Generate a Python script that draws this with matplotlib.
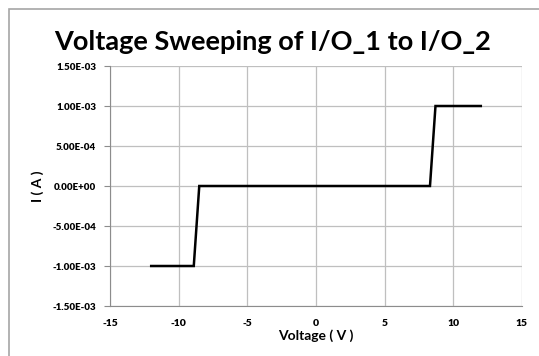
import matplotlib
matplotlib.use("Agg")
import matplotlib.pyplot as plt
from matplotlib.patches import Rectangle

# sweep data
voltage = [-12.0, -8.9, -8.5, 8.3, 8.7, 12.0]
current = [-1.0e-3, -1.0e-3, 0.0, 0.0, 1.0e-3, 1.0e-3]

x_ticks = [-15, -10, -5, 0, 5, 10, 15]
y_ticks = [-1.5e-3, -1.0e-3, -5.0e-4, 0.0, 5.0e-4, 1.0e-3, 1.5e-3]
y_labels = ["-1.50E-03", "-1.00E-03", "-5.00E-04", "0.00E+00",
            "5.00E-04", "1.00E-03", "1.50E-03"]

plt.rcParams['font.family'] = ['Lato', 'DejaVu Sans']

fig = plt.figure(figsize=(5.39, 3.56), dpi=100)
W, H = 539, 356

# chart area border
fig.patches.append(Rectangle((9 / W, -0.1), 1.2, (H - 9) / H + 0.1,
                             transform=fig.transFigure, fill=False,
                             edgecolor='#a6a6a6', linewidth=1.2))

ax = fig.add_axes([110 / W, (H - 306) / H, (522 - 110) / W, (306 - 66) / H])

ax.plot(voltage, current, color='black', linewidth=1.8, solid_joinstyle='miter')

ax.set_xlim(-15, 15)
ax.set_ylim(-1.5e-3, 1.5e-3)
ax.set_xticks(x_ticks)
ax.set_xticklabels([str(t) for t in x_ticks], fontsize=7.5, fontweight='heavy')
ax.set_yticks(y_ticks)
ax.set_yticklabels(y_labels, fontsize=7, fontweight='heavy')

ax.grid(True, color='#bfbfbf', linewidth=0.9)
ax.set_axisbelow(True)
for side in ['top', 'right']:
    ax.spines[side].set_visible(False)
for side in ['left', 'bottom']:
    ax.spines[side].set_color('#8c8c8c')
ax.tick_params(axis='y', direction='out', length=4, color='#8c8c8c', pad=6)
ax.tick_params(axis='x', length=0, pad=9)

ax.set_xlabel('Voltage ( V )', fontsize=10, fontweight='bold', labelpad=1)
ax.set_ylabel('I ( A )', fontsize=10, fontweight='bold', labelpad=6)

fig.text(0.505, (H - 42) / H, 'Voltage Sweeping of I/O_1 to I/O_2',
         ha='center', va='center', fontsize=19.5, fontweight='bold')

fig.savefig('out.png', dpi=100)
